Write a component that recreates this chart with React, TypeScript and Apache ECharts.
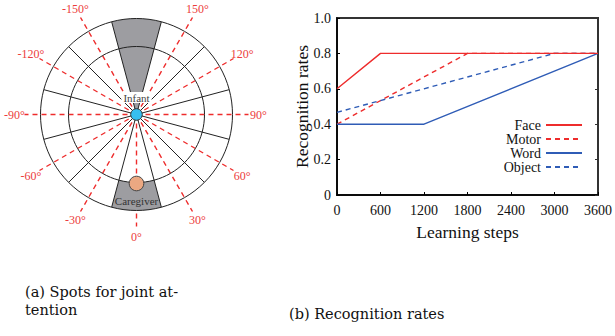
import React, { useEffect, useRef } from "react";
import * as echarts from "echarts";

// ---------- data: recognition rates ----------
const stepTicks = [0, 600, 1200, 1800, 2400, 3000, 3600];
const seriesNames = ["Face", "Motor", "Word", "Object"];
const faceData = [[0, 0.6], [600, 0.8], [3600, 0.8]];
const motorData = [[0, 0.4], [1800, 0.8], [3600, 0.8]];
const wordData = [[0, 0.4], [1200, 0.4], [3600, 0.8]];
const objectData = [[0, 0.467], [3000, 0.8], [3600, 0.8]];

// ---------- data: joint attention spots ----------
const labelAngles = [0, 30, 60, 90, 120, 150, -30, -60, -90, -120, -150];
const sectorEdgeAngles = [15, 45, 75, 105, 135, 165, -15, -45, -75, -105, -135, -165];
const ringRadii = [68, 96];
const infantSpot = { from: 165, to: 195 };
const caregiverSpot = { from: -15, to: 15 };

const RED = "#ee2c2c";
const BLUE = "#2f5cb6";
const GRAY = "#9d9da1";
const SERIF = "'Liberation Serif', 'Times New Roman', serif";

export default function App() {
  const ref = useRef<HTMLDivElement>(null);

  useEffect(() => {
    if (!ref.current) return;
    const chart = echarts.init(ref.current, null, { renderer: "svg" });

    const CX = 136.5;
    const CY = 114.5;
    const R_OUT = ringRadii[1];
    const R_MID = ringRadii[0];
    const R_DASH = 112;
    const R_LABEL = 122;
    const pt = (r: number, deg: number) => {
      const a = (deg * Math.PI) / 180;
      return [CX + r * Math.sin(a), CY + r * Math.cos(a)];
    };
    const scr = (deg: number) => ((90 - deg) * Math.PI) / 180;

    const g: any[] = [];
    g.push({ type: "circle", shape: { cx: CX, cy: CY, r: R_OUT }, style: { fill: "#fff", stroke: "none" } });
    labelAngles.forEach((d) => {
      const [x2, y2] = pt(R_DASH, d);
      g.push({
        type: "line",
        shape: { x1: CX, y1: CY, x2, y2 },
        style: { stroke: RED, lineWidth: 1.4, lineDash: [5, 4] },
      });
    });
    g.push({
      type: "sector",
      shape: { cx: CX, cy: CY, r0: 0, r: R_OUT, startAngle: scr(infantSpot.to), endAngle: scr(infantSpot.from), clockwise: true },
      style: { fill: GRAY, stroke: "none" },
    });
    g.push({
      type: "sector",
      shape: { cx: CX, cy: CY, r0: R_MID, r: R_OUT, startAngle: scr(caregiverSpot.to), endAngle: scr(caregiverSpot.from), clockwise: true },
      style: { fill: GRAY, stroke: "none" },
    });
    ringRadii.forEach((r) => {
      g.push({ type: "circle", shape: { cx: CX, cy: CY, r }, style: { fill: "none", stroke: "#222", lineWidth: 1 } });
    });
    sectorEdgeAngles.forEach((d) => {
      const [x2, y2] = pt(R_OUT, d);
      g.push({ type: "line", shape: { x1: CX, y1: CY, x2, y2 }, style: { stroke: "#222", lineWidth: 1 } });
    });
    labelAngles.forEach((d) => {
      const [x, y] = pt(R_LABEL, d);
      g.push({
        type: "text",
        x,
        y,
        style: {
          text: `${d}°`,
          fill: "#ec3c3c",
          fontSize: 12,
          fontFamily: SERIF,
          textAlign: "center",
          textVerticalAlign: "middle",
          align: "center",
          verticalAlign: "middle",
        },
      });
    });
    const [gx, gy] = pt(69, 0);
    g.push({ type: "circle", shape: { cx: gx, cy: gy, r: 7.3 }, style: { fill: "#eba882", stroke: "#444", lineWidth: 1 } });
    g.push({
      type: "text",
      x: CX,
      y: 200.5,
      style: {
        text: "Caregiver",
        fill: "#333",
        fontSize: 11,
        fontFamily: SERIF,
        textAlign: "center",
        textVerticalAlign: "middle",
        align: "center",
        verticalAlign: "middle",
      },
    });
    g.push({
      type: "text",
      x: CX,
      y: 97.5,
      style: {
        text: "Infant",
        fill: "#444",
        fontSize: 11,
        fontFamily: SERIF,
        textAlign: "center",
        textVerticalAlign: "middle",
        align: "center",
        verticalAlign: "middle",
        backgroundColor: "#fff",
        padding: [0, 2],
      },
    });
    g.push({ type: "circle", shape: { cx: CX, cy: CY, r: 5.8 }, style: { fill: "#36bff0", stroke: "#333", lineWidth: 1 } });

    // captions
    const capStyle = {
      fill: "#111",
      fontSize: 14.5,
      fontFamily: "'DejaVu Serif', serif",
      textAlign: "left",
      align: "left",
      textVerticalAlign: "middle",
      verticalAlign: "middle",
    };
    g.push({ type: "text", x: 25, y: 292, style: { ...capStyle, text: "(a) Spots for joint at-" } });
    g.push({ type: "text", x: 25, y: 310, style: { ...capStyle, text: "tention" } });
    g.push({ type: "text", x: 289, y: 314, style: { ...capStyle, text: "(b) Recognition rates" } });

    const lineSeries = (name: string, data: number[][], color: string, dashed: boolean, z: number) => ({
      name,
      type: "line",
      data,
      symbol: "none",
      showSymbol: false,
      z,
      lineStyle: { color, width: 1.4, type: dashed ? [5, 4] : "solid" },
      itemStyle: { color },
    });

    chart.setOption({
      animation: false,
      grid: {
        left: 337,
        right: 15,
        top: 18,
        bottom: 141,
        show: true,
        borderColor: "#333",
        borderWidth: 2,
        backgroundColor: "transparent",
      },
      xAxis: {
        type: "value",
        min: stepTicks[0],
        max: stepTicks[stepTicks.length - 1],
        interval: 600,
        name: "Learning steps",
        nameLocation: "middle",
        nameGap: 28,
        nameTextStyle: { fontFamily: SERIF, fontSize: 17.5, color: "#111" },
        axisLine: { show: true, lineStyle: { color: "#000", width: 1.5 } },
        axisTick: { show: true, inside: true, length: 3, lineStyle: { color: "#000" } },
        axisLabel: {
          fontFamily: SERIF,
          fontSize: 14,
          color: "#111",
          margin: 8,
          formatter: (v: number) => String(v),
        },
        splitLine: { show: false },
      },
      yAxis: [
        {
          type: "value",
          min: 0,
          max: 1,
          interval: 0.2,
          name: "Recognition rates",
          nameLocation: "middle",
          nameGap: 26,
          nameMoveOverlap: false,
          nameTextStyle: { fontFamily: SERIF, fontSize: 17.5, color: "#111" },
          axisLine: { show: true, lineStyle: { color: "#000", width: 1.5 } },
          axisTick: { show: true, inside: true, length: 3, lineStyle: { color: "#000" } },
          axisLabel: {
            fontFamily: SERIF,
            fontSize: 14,
            color: "#111",
            margin: 6,
            formatter: (v: number) => (v === 0 ? "0" : v.toFixed(1)),
          },
          splitLine: { show: false },
        },
        {
          type: "value",
          position: "right",
          min: 0,
          max: 1,
          interval: 0.2,
          axisLine: { show: false },
          axisTick: { show: true, inside: true, length: 3, lineStyle: { color: "#333" } },
          axisLabel: { show: false },
          splitLine: { show: false },
        },
      ],
      legend: {
        orient: "vertical",
        right: 32,
        top: 118,
        align: "right",
        padding: 0,
        itemGap: 0,
        itemWidth: 36,
        itemHeight: 10,
        itemStyle: { opacity: 0 },
        data: seriesNames,
        textStyle: { fontFamily: SERIF, fontSize: 14, color: "#111", lineHeight: 13.5, width: 46, align: "right" },
      },
      graphic: { elements: g },
      series: [
        lineSeries("Motor", motorData, RED, true, 2),
        lineSeries("Object", objectData, BLUE, true, 2),
        lineSeries("Word", wordData, BLUE, false, 3),
        lineSeries("Face", faceData, RED, false, 4),
      ],
    });

    return () => chart.dispose();
  }, []);

  return (
    <div
      ref={ref}
      style={{ position: "absolute", left: 0, top: 0, width: 615, height: 336, background: "#fff" }}
    />
  );
}
